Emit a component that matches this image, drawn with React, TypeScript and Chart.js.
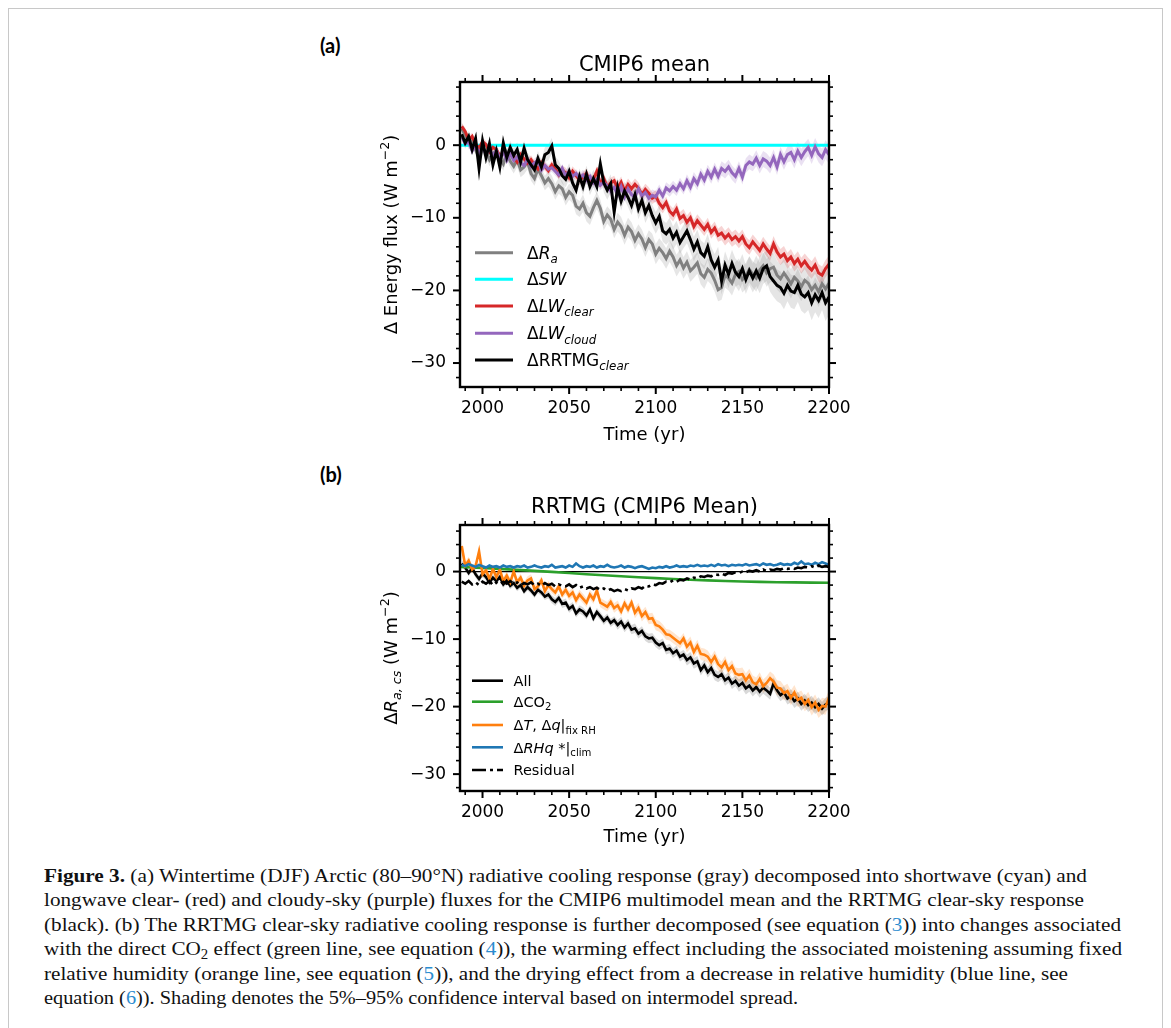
import React, { useEffect, useRef } from "react";
import { Chart, registerables } from "chart.js";

Chart.register(...registerables);

const FONT = "'DejaVu Sans', sans-serif";

// ---------- data ----------
const YEARS: number[] = [];
for (let yr = 1988; yr <= 2200; yr += 2) YEARS.push(yr);

const X_MIN = 1987;
const X_MAX = 2200;
const X_TICKS = [2000, 2050, 2100, 2150, 2200];
const Y_TICKS = [-30, -20, -10, 0];
const A_Y_RANGE = [-33.3, 8.7];
const B_Y_RANGE = [-32.5, 6.9];

// Panel (a) — CMIP6 mean
const RA = [
  2.3, 1.4, 0.2, 0.6, -0.6,
  -1.8, -0.4, -0.9, -2.0, -1.2,
  -0.7, -1.9, -2.6, -1.1, -2.2,
  -2.9, -2.0, -3.4, -3.0, -2.3,
  -3.9, -4.6, -3.3, -4.2, -5.2,
  -4.6, -5.3, -6.4, -5.6, -6.0,
  -7.2, -6.4, -6.9, -8.4, -8.8,
  -8.0, -9.3, -9.8, -8.6, -7.6,
  -8.7, -10.5, -9.6, -10.2, -11.6,
  -10.6, -11.2, -12.4, -11.3, -11.9,
  -13.1, -12.2, -12.9, -14.1, -13.0,
  -13.6, -15.0, -14.2, -14.8, -15.6,
  -14.6, -15.4, -16.6, -15.8, -16.9,
  -16.1, -17.3, -16.8, -16.2, -17.7,
  -18.2, -17.1, -17.6, -18.6, -19.9,
  -19.6, -17.9, -18.3, -19.0, -17.8,
  -17.4, -18.5, -18.0, -17.1, -17.8,
  -18.3, -17.2, -16.6, -17.6, -17.0,
  -16.8, -17.9, -18.4, -17.6, -18.3,
  -19.1, -18.2, -18.7, -19.5, -18.6,
  -19.0, -19.9, -19.3, -20.2, -19.1,
  -19.8, -19.0,
];
const SW_YEARS = [1987, 2200];
const SW = [0, 0];
const LW_CLEAR = [
  2.6, 1.9, 0.7, 1.2, 0.1,
  -0.4, 0.5, 0.1, -0.9, -0.3,
  -0.6, -1.5, -0.9, -1.7, -1.1,
  -1.6, -2.3, -1.3, -1.9, -2.5,
  -2.0, -2.7, -3.3, -2.4, -2.9,
  -3.5, -2.7, -3.3, -4.1, -3.4,
  -3.8, -4.5, -3.6, -4.2, -4.8,
  -4.4, -3.9, -5.1, -4.7, -3.6,
  -5.3, -4.6, -5.8, -5.2, -4.9,
  -5.9, -5.1, -6.3, -5.4, -6.0,
  -5.4, -5.9, -6.8, -6.1, -6.6,
  -7.3, -7.0, -8.0, -8.6, -7.9,
  -9.1, -9.6, -8.8, -10.1, -9.7,
  -10.6, -10.0, -11.2, -10.4, -11.0,
  -11.6, -10.9, -12.0, -11.4, -12.4,
  -12.1, -12.8, -12.3, -13.0, -12.6,
  -13.2, -12.6, -13.6, -14.1, -13.3,
  -13.9, -14.5, -13.6, -14.3, -14.9,
  -13.6, -14.7, -15.4, -15.0, -15.9,
  -15.4, -16.3, -15.7, -16.6, -16.0,
  -16.7, -17.2, -16.5, -17.6, -17.9,
  -17.0, -16.4,
];
const LW_CLOUD = [
  1.2, 0.2, 0.4, -0.8, 0.0,
  -1.1, -0.2, -1.3, -0.4, -1.5,
  -0.7, -1.8, -0.9, -2.1, -1.2,
  -2.1, -1.6, -2.4, -2.8, -1.9,
  -2.9, -2.4, -2.1, -3.4, -2.8,
  -3.3, -3.1, -3.6, -4.1, -3.2,
  -4.2, -3.6, -4.3, -3.9, -4.5,
  -4.1, -4.8, -4.3, -5.2, -4.7,
  -5.5, -5.1, -5.6, -6.3, -5.8,
  -6.8, -5.7, -7.1, -6.0, -6.8,
  -7.1, -6.0, -7.0, -6.5, -7.3,
  -6.9, -7.1, -6.2, -7.0, -5.9,
  -6.3, -5.7, -6.2, -5.3, -6.0,
  -4.9, -5.8, -4.6, -5.3, -4.0,
  -4.8, -3.6, -4.4, -3.3, -4.3,
  -3.2, -3.6, -3.0, -3.8, -4.3,
  -3.2, -4.4, -2.8, -2.3, -2.6,
  -1.8, -2.8, -1.9, -2.2, -2.8,
  -1.7, -3.0, -1.3, -2.3, -1.3,
  -1.0, -2.0, -0.8, -1.7, -0.9,
  -0.3, -1.4, -0.2, -1.2, -1.7,
  -0.6, -1.3,
];
const RRTMG_A = [
  1.5, 0.3, 1.2, -0.6, 0.9,
  -3.2, 0.6, -1.7, 0.2, -2.7,
  -0.8, -3.0, 0.3, -1.7, -0.3,
  -1.4, -0.6, -2.3, -0.4, -2.0,
  -2.7, -3.4, -1.8, -3.0, -1.3,
  -1.0, -0.1, -2.7, -3.2, -4.2,
  -4.7, -3.6, -5.2, -6.2, -4.3,
  -5.7, -4.0, -5.7, -4.6, -5.7,
  -2.6, -5.2, -6.2, -5.3, -9.2,
  -5.8, -7.7, -6.3, -7.2, -8.3,
  -6.8, -8.8, -7.6, -9.3, -8.3,
  -9.7, -10.7, -9.8, -11.8, -12.2,
  -11.6, -12.8, -12.0, -13.4, -12.6,
  -11.8, -13.0, -14.3, -13.3, -14.8,
  -15.3, -14.0, -15.8, -16.8, -15.8,
  -18.7, -16.5, -17.8, -16.3, -17.5,
  -18.1, -17.0, -18.5, -17.3, -18.3,
  -17.3, -18.3, -17.0, -16.6, -18.1,
  -18.7, -19.3, -19.6, -20.4, -19.3,
  -20.1, -20.3, -19.3, -20.5, -20.9,
  -20.3, -21.7, -20.6, -21.4, -20.3,
  -21.7, -20.9,
];
// 5–95% half-spread, one value per block of five points
const SPR_RA = [0.8, 0.9, 0.9, 1.0, 1.0, 1.1, 1.1, 1.2, 1.2, 1.3, 1.3, 1.4, 1.5, 1.5, 1.6, 1.7, 1.8, 1.9, 2.0, 2.0, 2.1, 2.2];
const SPR_RRTMG_A = [0.8, 0.9, 0.9, 1.0, 1.0, 1.1, 1.1, 1.2, 1.3, 1.3, 1.4, 1.5, 1.6, 1.7, 1.8, 1.9, 2.0, 2.1, 2.2, 2.3, 2.4, 2.5];
const SPR_LW_CLEAR = [0.5, 0.5, 0.5, 0.6, 0.6, 0.6, 0.7, 0.7, 0.7, 0.8, 0.8, 0.8, 0.9, 0.9, 0.9, 1.0, 1.0, 1.0, 1.1, 1.1, 1.2, 1.2];
const SPR_LW_CLOUD = [0.5, 0.5, 0.5, 0.5, 0.6, 0.6, 0.6, 0.7, 0.7, 0.7, 0.8, 0.8, 0.8, 0.9, 0.9, 1.0, 1.0, 1.1, 1.1, 1.2, 1.2, 1.3];

// Panel (b) — RRTMG decomposition
const ALL_B = [
  1.2, 0.6, -0.2, 0.5, -0.4,
  -1.1, -0.3, -0.8, -1.6, -0.9,
  -1.4, -0.8, -1.9, -1.3, -2.1,
  -1.7, -2.4, -2.0, -2.9, -2.3,
  -2.8, -3.4, -2.7, -3.1, -3.7,
  -3.4, -4.1, -4.5, -3.9, -4.8,
  -4.6, -5.5, -5.1, -6.2, -5.6,
  -5.9, -6.5, -5.6, -6.9, -6.0,
  -6.6, -7.3, -6.8, -7.6, -7.2,
  -7.9, -7.4, -8.3, -7.7, -8.6,
  -8.4, -9.2, -8.8, -9.6, -9.9,
  -9.8, -10.5, -10.9, -10.6, -11.6,
  -11.4, -12.1, -11.7, -12.6, -12.3,
  -13.1, -12.7, -13.6, -13.3, -14.6,
  -13.9, -14.9, -14.3, -15.3, -15.6,
  -15.2, -16.1, -15.7, -16.6, -16.2,
  -16.9, -16.5, -17.3, -16.9, -17.6,
  -17.1, -17.8, -17.2, -17.6, -18.1,
  -16.6, -17.6, -18.3, -17.9, -18.8,
  -18.4, -19.2, -18.8, -19.6, -19.1,
  -19.8, -19.4, -20.1, -19.6, -20.3,
  -19.7, -19.4,
];
const CO2_YEARS = [1987, 2000, 2010, 2020, 2030, 2040, 2050, 2060, 2070, 2080, 2090, 2100, 2110, 2120, 2130, 2140, 2150, 2160, 2170, 2180, 2190, 2200];
const CO2 = [0.7, 0.55, 0.4, 0.25, 0.1, -0.05, -0.2, -0.4, -0.55, -0.7, -0.85, -0.97, -1.1, -1.2, -1.3, -1.4, -1.47, -1.52, -1.57, -1.6, -1.63, -1.66];
const DT_FIXRH = [
  3.8, 0.9, 1.6, 0.3, 0.8,
  3.0, -0.4, 0.2, -1.1, 0.4,
  -0.8, 0.3, -1.4, -0.6, -1.6,
  0.0, -1.6, -0.9, -2.1, -1.3,
  -1.0, -2.6, -2.2, -1.3, -2.9,
  -2.0, -2.6, -3.1, -2.2, -3.4,
  -2.7, -3.6, -3.1, -4.2, -3.4,
  -4.0, -4.6, -3.4, -4.1, -2.8,
  -4.6, -4.9, -5.2, -4.5, -5.4,
  -5.0, -5.9, -4.7, -5.6, -4.6,
  -6.1, -5.4, -6.6, -6.0, -7.0,
  -6.9, -7.9, -8.1, -8.6, -9.3,
  -9.4, -9.8, -10.2, -10.6, -9.9,
  -11.1, -10.5, -11.9, -11.0, -12.2,
  -12.3, -12.6, -13.4, -12.6, -13.7,
  -14.2, -13.4, -14.6, -14.0, -15.1,
  -15.3, -15.2, -16.1, -15.4, -16.4,
  -16.7, -15.9, -17.0, -16.5, -15.8,
  -16.3, -17.2, -17.3, -18.0, -17.7,
  -18.7, -17.9, -19.0, -18.7, -19.6,
  -19.0, -20.1, -19.4, -20.5, -19.9,
  -20.0, -18.7,
];
const RHQ_CLIM = [
  1.0, 0.8, 1.1, 0.9, 0.7,
  1.0, 0.8, 0.6, 0.9, 0.7,
  0.8, 0.6, 0.9, 0.7, 0.8,
  0.6, 0.8, 0.7, 0.9, 0.6,
  0.7, 0.9, 0.7, 0.6, 0.8,
  0.7, 1.0, 0.6, 0.7, 0.8,
  0.6, 0.9, 0.7, 1.2, 0.8,
  0.6, 0.8, 0.7, 0.9, 0.6,
  0.8, 0.7, 1.0, 0.7, 0.6,
  0.7, 0.9, 0.6, 0.8, 0.7,
  0.5, 0.7, 0.8, 0.6, 0.4,
  0.6, 0.5, 0.7, 0.6, 0.8,
  0.6, 0.7, 0.9, 0.7, 0.8,
  0.7, 0.9, 0.8, 1.0, 0.8,
  0.9, 0.8, 1.0, 0.8, 1.1,
  0.9, 1.0, 0.8, 1.0, 0.9,
  1.0, 0.9, 1.1, 0.9, 1.0,
  1.1, 0.9, 1.2, 1.0, 1.1,
  0.9, 1.0, 1.2, 1.0, 1.1,
  1.0, 1.3, 1.1, 1.5, 1.1,
  1.2, 1.0, 1.3, 1.1, 1.4,
  1.2, 1.0,
];
const RESIDUAL = [
  -1.5, -1.8, -1.4, -1.9, -1.6,
  -2.0, -1.5, -1.8, -1.4, -2.0,
  -1.6, -1.9, -1.5, -1.8, -1.4,
  -1.8, -1.6, -2.0, -1.7, -1.9,
  -1.6, -2.0, -1.8, -2.1, -1.7,
  -2.0, -1.8, -2.2, -1.9, -2.1,
  -2.2, -1.9, -2.3, -2.0, -2.4,
  -2.2, -2.5, -2.3, -2.6, -2.4,
  -2.7, -2.5, -2.8, -2.6, -2.9,
  -2.7, -2.9, -2.6, -2.8, -2.5,
  -2.6, -2.3, -2.5, -2.1, -2.2,
  -1.9, -2.0, -1.7, -1.8, -1.5,
  -1.6, -1.3, -1.5, -1.2, -1.3,
  -1.0, -1.2, -0.9, -1.0, -0.7,
  -0.8, -0.6, -0.7, -0.4, -0.5,
  -0.3, -0.5, -0.2, -0.3, -0.1,
  -0.2, 0.0, -0.1, 0.1, 0.0,
  0.2, 0.0, 0.3, 0.1, 0.3,
  0.2, 0.4, 0.3, 0.5, 0.4,
  0.5, 0.4, 0.6, 0.5, 0.7,
  0.6, 0.8, 0.6, 0.9, 0.7,
  0.8, 0.7,
];
const ZERO_YEARS = [1987, 2200];
const ZERO = [0, 0];
const SPR_ALL = [0.5, 0.5, 0.5, 0.5, 0.5, 0.6, 0.6, 0.6, 0.6, 0.7, 0.7, 0.7, 0.7, 0.8, 0.8, 0.8, 0.9, 0.9, 0.9, 1.0, 1.0, 1.0];
const SPR_DT = [0.6, 0.6, 0.6, 0.6, 0.6, 0.6, 0.7, 0.7, 0.7, 0.7, 0.8, 0.8, 0.8, 0.9, 0.9, 0.9, 1.0, 1.0, 1.1, 1.1, 1.2, 1.2];

// ---------- rich text ----------
type Run = { t: string; it?: boolean; sub?: boolean; sup?: boolean };

function runFont(r: Run, size: number) {
  const s = r.sub || r.sup ? size * 0.7 : size;
  return `${r.it ? "italic " : ""}${s}px ${FONT}`;
}
function runsWidth(ctx: CanvasRenderingContext2D, runs: Run[], size: number) {
  let w = 0;
  for (const r of runs) {
    ctx.font = runFont(r, size);
    w += ctx.measureText(r.t).width;
  }
  return w;
}
function drawRuns(ctx: CanvasRenderingContext2D, runs: Run[], x: number, y: number, size: number) {
  ctx.textAlign = "left";
  ctx.textBaseline = "alphabetic";
  let cx = x;
  for (const r of runs) {
    ctx.font = runFont(r, size);
    const dy = r.sub ? size * 0.24 : r.sup ? -size * 0.42 : 0;
    ctx.fillText(r.t, cx, y + dy);
    cx += ctx.measureText(r.t).width;
  }
}

const minus = (v: number) => (v < 0 ? "\u2212" + Math.abs(v) : String(v));

// ---------- dataset helpers ----------
function pts(xs: number[], ys: number[]) {
  return xs.map((x, i) => ({ x, y: ys[i] }));
}
function lineDs(label: string, xs: number[], ys: number[], color: string, width: number, order: number, dash?: number[]) {
  return {
    label,
    data: pts(xs, ys),
    borderColor: color,
    backgroundColor: color,
    borderWidth: width,
    borderDash: dash || [],
    pointRadius: 0,
    fill: false,
    tension: 0,
    order,
  };
}
function bandDs(key: string, ys: number[], spr: number[], color: string) {
  const hi = ys.map((v, i) => v + spr[Math.floor(i / 5)]);
  const lo = ys.map((v, i) => v - spr[Math.floor(i / 5)]);
  return [
    { label: key + "_hi", data: pts(YEARS, hi), borderColor: "rgba(0,0,0,0)", borderWidth: 0, pointRadius: 0, fill: "+1", backgroundColor: color, order: 50, tension: 0 },
    { label: key + "_lo", data: pts(YEARS, lo), borderColor: "rgba(0,0,0,0)", borderWidth: 0, pointRadius: 0, fill: false, backgroundColor: color, order: 50, tension: 0 },
  ];
}

type PanelCfg = {
  w: number;
  h: number;
  left: number;
  top: number;
  pad: { left: number; top: number; right: number; bottom: number };
  yRange: number[];
  title: string;
  yLabel: Run[];
  legend: { key: string; runs: Run[] }[];
  legendRows: number[];
  legendX: number[];
  legendSize: number;
  titleBase: number;
  xLabelBase: number;
  yLabelX: number;
  datasets: any[];
};

const PANEL_A: PanelCfg = {
  w: 510,
  h: 406,
  left: 352,
  top: 36,
  pad: { left: 0, top: 38, right: 41, bottom: 23 },
  yRange: A_Y_RANGE,
  title: "CMIP6 mean",
  yLabel: [{ t: "Δ Energy flux (W m" }, { t: "\u22122", sup: true }, { t: ")" }],
  legend: [
    { key: "ra", runs: [{ t: "Δ" }, { t: "R", it: true }, { t: "a", it: true, sub: true }] },
    { key: "sw", runs: [{ t: "Δ" }, { t: "SW", it: true }] },
    { key: "lwclear", runs: [{ t: "Δ" }, { t: "LW", it: true }, { t: "clear", it: true, sub: true }] },
    { key: "lwcloud", runs: [{ t: "Δ" }, { t: "LW", it: true }, { t: "cloud", it: true, sub: true }] },
    { key: "rrtmg", runs: [{ t: "ΔRRTMG" }, { t: "clear", it: true, sub: true }] },
  ],
  legendRows: [208.7, 235.3, 262, 289.3, 316],
  legendX: [115, 153, 167],
  legendSize: 17,
  titleBase: 26.7,
  xLabelBase: 395.5,
  yLabelX: 37,
  datasets: [
    ...bandDs("ra", RA, SPR_RA, "rgba(128,128,128,0.2)"),
    ...bandDs("rrtmg", RRTMG_A, SPR_RRTMG_A, "rgba(0,0,0,0.1)"),
    ...bandDs("lwclear", LW_CLEAR, SPR_LW_CLEAR, "rgba(214,39,40,0.2)"),
    ...bandDs("lwcloud", LW_CLOUD, SPR_LW_CLOUD, "rgba(148,103,189,0.2)"),
    lineDs("ra", YEARS, RA, "#808080", 3, 10),
    lineDs("sw", SW_YEARS, SW, "#00ffff", 3, 9),
    lineDs("lwclear", YEARS, LW_CLEAR, "#d62728", 3, 8),
    lineDs("lwcloud", YEARS, LW_CLOUD, "#9467bd", 3, 7),
    lineDs("rrtmg", YEARS, RRTMG_A, "#000000", 3, 6),
  ],
};

const PANEL_B: PanelCfg = {
  w: 510,
  h: 364,
  left: 352,
  top: 478,
  pad: { left: 0, top: 39, right: 41, bottom: 19 },
  yRange: B_Y_RANGE,
  title: "RRTMG (CMIP6 Mean)",
  yLabel: [{ t: "Δ" }, { t: "R", it: true }, { t: "a, cs", it: true, sub: true }, { t: " (W m" }, { t: "\u22122", sup: true }, { t: ")" }],
  legend: [
    { key: "all", runs: [{ t: "All" }] },
    { key: "co2", runs: [{ t: "ΔCO" }, { t: "2", sub: true }] },
    { key: "dt", runs: [{ t: "Δ" }, { t: "T", it: true }, { t: ", Δ" }, { t: "q", it: true }, { t: "|" }, { t: "fix RH", sub: true }] },
    { key: "rhq", runs: [{ t: "Δ" }, { t: "RHq", it: true }, { t: " *" }, { t: "|" }, { t: "clim", sub: true }] },
    { key: "res", runs: [{ t: "Residual" }] },
  ],
  legendRows: [194.7, 215.7, 239, 261.3, 284],
  legendX: [112, 143, 153.5],
  legendSize: 14.5,
  titleBase: 27.3,
  xLabelBase: 355.7,
  yLabelX: 37,
  datasets: [
    ...bandDs("all", ALL_B, SPR_ALL, "rgba(0,0,0,0.15)"),
    ...bandDs("dt", DT_FIXRH, SPR_DT, "rgba(255,127,14,0.2)"),
    lineDs("zero", ZERO_YEARS, ZERO, "#000000", 1.3, 20),
    lineDs("all", YEARS, ALL_B, "#000000", 2.6, 10),
    lineDs("co2", CO2_YEARS, CO2, "#2ca02c", 2.6, 9),
    lineDs("dt", YEARS, DT_FIXRH, "#ff7f0e", 2.6, 8),
    lineDs("rhq", YEARS, RHQ_CLIM, "#1f77b4", 2.6, 7),
    lineDs("res", YEARS, RESIDUAL, "#000000", 2.6, 6, [14, 4, 3, 4]),
  ],
};

function decorPlugin(cfg: PanelCfg) {
  return {
    id: "decor",
    afterDraw(chart: any) {
      const ctx: CanvasRenderingContext2D = chart.ctx;
      const a = chart.chartArea;
      const xs = chart.scales.x;
      const ys = chart.scales.y;
      ctx.save();
      ctx.strokeStyle = "#000";
      ctx.fillStyle = "#000";
      const seg = (x1: number, y1: number, x2: number, y2: number, w: number) => {
        ctx.lineWidth = w;
        ctx.beginPath();
        ctx.moveTo(x1, y1);
        ctx.lineTo(x2, y2);
        ctx.stroke();
      };
      for (let v = 1990; v <= X_MAX; v += 10) {
        const major = X_TICKS.includes(v);
        const px = xs.getPixelForValue(v);
        const L = major ? 7 : 4;
        const w = major ? 2 : 1.6;
        seg(px, a.bottom, px, a.bottom + L, w);
        seg(px, a.top, px, a.top - L, w);
      }
      for (let v = Math.ceil(cfg.yRange[0] / 2) * 2; v <= cfg.yRange[1]; v += 2) {
        const major = Y_TICKS.includes(v);
        const py = ys.getPixelForValue(v);
        const L = major ? 7 : 4;
        const w = major ? 2 : 1.6;
        seg(a.left, py, a.left - L, py, w);
        seg(a.right, py, a.right + L, py, w);
      }
      ctx.lineWidth = 2.4;
      ctx.strokeRect(a.left, a.top, a.right - a.left, a.bottom - a.top);
      const cx = (a.left + a.right) / 2;
      const cy = (a.top + a.bottom) / 2;
      ctx.textAlign = "center";
      ctx.textBaseline = "alphabetic";
      ctx.font = `21px ${FONT}`;
      ctx.fillText(cfg.title, cx, cfg.titleBase);
      ctx.font = `18px ${FONT}`;
      ctx.fillText("Time (yr)", cx, cfg.xLabelBase);
      ctx.save();
      ctx.translate(cfg.yLabelX, cy);
      ctx.rotate(-Math.PI / 2);
      const wl = runsWidth(ctx, cfg.yLabel, 18);
      drawRuns(ctx, cfg.yLabel, -wl / 2, 0, 18);
      ctx.restore();
      cfg.legend.forEach((entry, i) => {
        const ds = chart.data.datasets.find((d: any) => d.label === entry.key && d.borderWidth > 0);
        const ry = cfg.legendRows[i];
        ctx.save();
        ctx.strokeStyle = ds.borderColor;
        ctx.lineWidth = ds.borderWidth;
        ctx.setLineDash(ds.borderDash || []);
        ctx.beginPath();
        ctx.moveTo(cfg.legendX[0], ry);
        ctx.lineTo(cfg.legendX[1], ry);
        ctx.stroke();
        ctx.restore();
        ctx.fillStyle = "#000";
        drawRuns(ctx, entry.runs, cfg.legendX[2], ry + cfg.legendSize * 0.36, cfg.legendSize);
      });
      ctx.restore();
    },
  };
}

function Panel({ cfg }: { cfg: PanelCfg }) {
  const ref = useRef<HTMLCanvasElement>(null);
  useEffect(() => {
    const canvas = ref.current!;
    const chart = new Chart(canvas, {
      type: "line",
      data: { datasets: cfg.datasets },
      options: {
        animation: false,
        responsive: false,
        maintainAspectRatio: false,
        devicePixelRatio: 1,
        normalized: true,
        layout: { padding: cfg.pad },
        plugins: {
          legend: { display: false },
          title: { display: false },
          tooltip: { enabled: false },
        },
        scales: {
          x: {
            type: "linear",
            min: X_MIN,
            max: X_MAX,
            grid: { display: false, drawTicks: false },
            border: { display: false },
            ticks: {
              padding: 11,
              autoSkip: false,
              maxRotation: 0,
              minRotation: 0,
              color: "#000",
              font: { family: FONT, size: 17 },
              callback: (v: any) => String(v),
            },
            afterBuildTicks: (s: any) => {
              s.ticks = X_TICKS.map((v) => ({ value: v }));
            },
            afterFit: (s: any) => {
              s.height = 40;
            },
          },
          y: {
            type: "linear",
            min: cfg.yRange[0],
            max: cfg.yRange[1],
            grid: { display: false, drawTicks: false },
            border: { display: false },
            ticks: {
              padding: 14,
              autoSkip: false,
              color: "#000",
              font: { family: FONT, size: 17 },
              callback: (v: any) => minus(Number(v)),
            },
            afterBuildTicks: (s: any) => {
              s.ticks = Y_TICKS.map((v) => ({ value: v }));
            },
            afterFit: (s: any) => {
              s.width = 100;
            },
          },
        },
      } as any,
      plugins: [decorPlugin(cfg)],
    });
    return () => chart.destroy();
  }, [cfg]);
  return (
    <canvas
      ref={ref}
      width={cfg.w}
      height={cfg.h}
      style={{ position: "absolute", left: cfg.left, top: cfg.top, width: cfg.w, height: cfg.h }}
    />
  );
}

const CAPTION_TARGET_WIDTHS = [1043, 1040, 1077, 1078, 1024, 754];

export default function App() {
  const lineRefs = useRef<(HTMLSpanElement | null)[]>([]);
  useEffect(() => {
    document.documentElement.style.overflow = "hidden";
    document.body.style.overflow = "hidden";
    lineRefs.current.forEach((el, i) => {
      if (!el) return;
      const w = el.getBoundingClientRect().width;
      if (w > 0) el.style.transform = `scaleX(${CAPTION_TARGET_WIDTHS[i] / w})`;
    });
  }, []);
  const blue = (s: string) => <span style={{ color: "#2a8ccf" }}>{s}</span>;
  const sub = (s: string) => (
    <span style={{ fontSize: "0.7em", position: "relative", top: "0.3em" }}>{s}</span>
  );
  const lines = [
    <>
      <b>Figure 3.</b> (a) Wintertime (DJF) Arctic (80–90°N) radiative cooling response (gray) decomposed into shortwave (cyan) and
    </>,
    <>longwave clear- (red) and cloudy-sky (purple) fluxes for the CMIP6 multimodel mean and the RRTMG clear-sky response</>,
    <>
      (black). (b) The RRTMG clear-sky radiative cooling response is further decomposed (see equation ({blue("3")})) into changes associated
    </>,
    <>
      with the direct CO{sub("2")} effect (green line, see equation ({blue("4")})), the warming effect including the associated moistening assuming fixed
    </>,
    <>
      relative humidity (orange line, see equation ({blue("5")})), and the drying effect from a decrease in relative humidity (blue line, see
    </>,
    <>
      equation ({blue("6")})). Shading denotes the 5%–95% confidence interval based on intermodel spread.
    </>,
  ];
  return (
    <div style={{ position: "relative", width: 1155, height: 1020, overflow: "hidden" }}>
      <div
        style={{
          position: "absolute",
          left: 0,
          top: 0,
          width: 1155,
          height: 1040,
          boxSizing: "border-box",
          border: "1px solid #c8c8c8",
        }}
      />
      <div style={{ position: "absolute", left: 312, top: 27, font: "bold 20px Lato, sans-serif", lineHeight: "20px" }}>(a)</div>
      <div style={{ position: "absolute", left: 312, top: 456, font: "bold 20px Lato, sans-serif", lineHeight: "20px" }}>(b)</div>
      <Panel cfg={PANEL_A} />
      <Panel cfg={PANEL_B} />
      <div
        style={{
          position: "absolute",
          left: 36,
          top: 856,
          fontFamily: "'Liberation Serif', serif",
          fontSize: "19.5px",
          lineHeight: "24.4px",
          color: "#111",
        }}
      >
        {lines.map((l, i) => (
          <div key={i} style={{ whiteSpace: "nowrap", height: "24.4px" }}>
            <span
              ref={(el) => {
                lineRefs.current[i] = el;
              }}
              style={{ display: "inline-block", transformOrigin: "left center" }}
            >
              {l}
            </span>
          </div>
        ))}
      </div>
    </div>
  );
}
